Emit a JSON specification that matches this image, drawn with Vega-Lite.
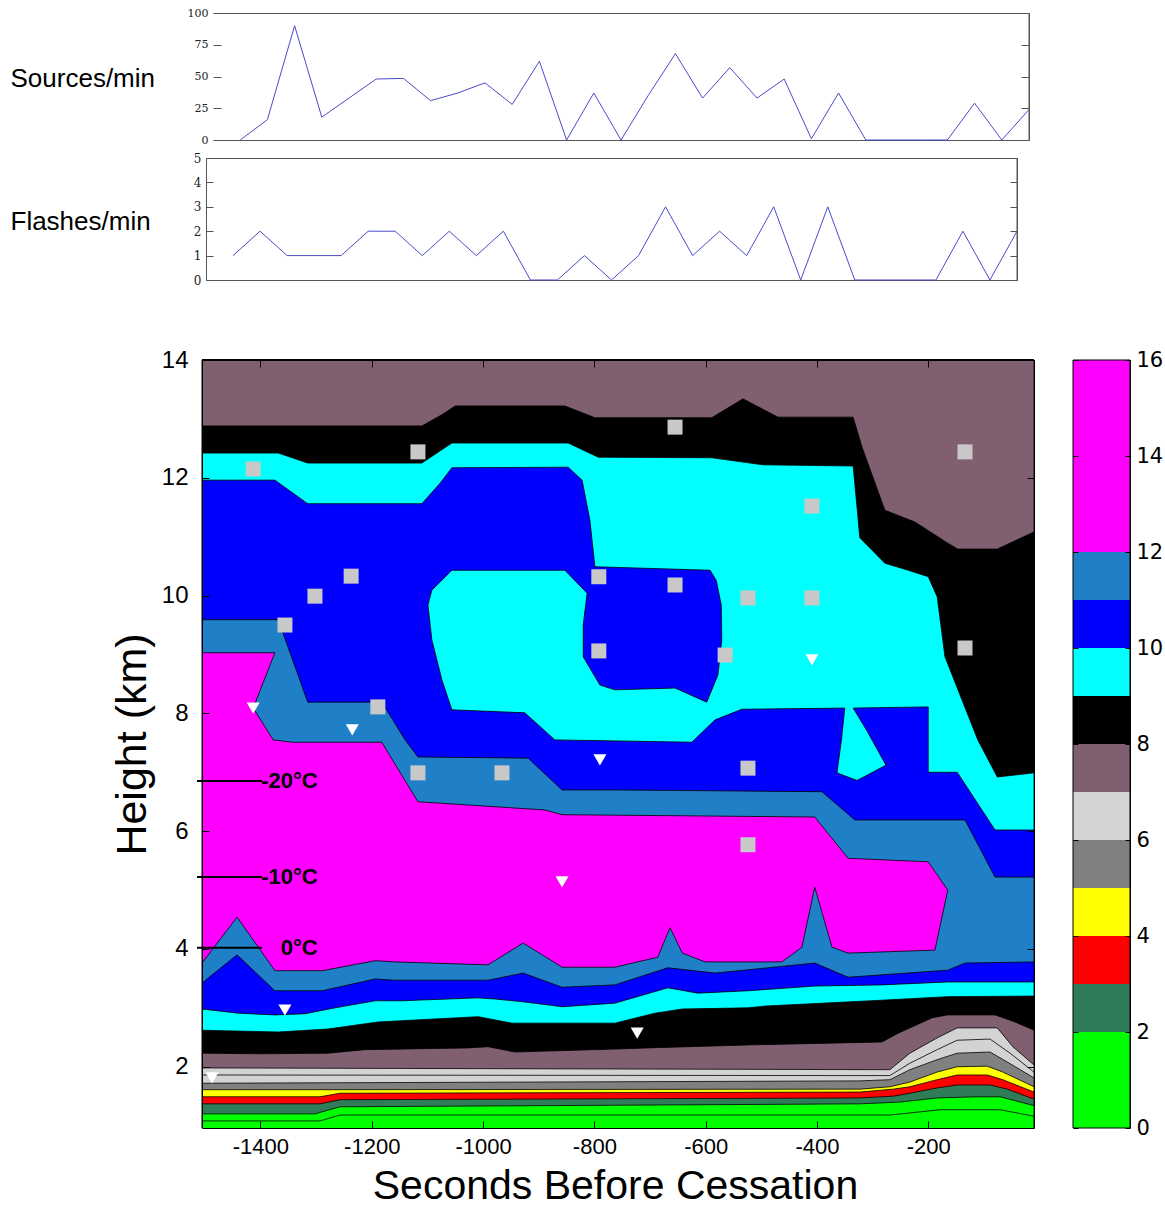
{
  "$schema": "https://vega.github.io/schema/vega-lite/v6.json",
  "width": 1165,
  "height": 1207,
  "autosize": "none",
  "padding": 0,
  "background": "#ffffff",
  "config": {"view": {"stroke": null}, "axis": {"grid": false, "labelColor": "#000", "tickColor": "#000", "domainColor": "#000", "titleColor": "#000"}},
  "datasets": {
    "sources": [{"i":0,"n":0},{"i":1,"n":16},{"i":2,"n":90},{"i":3,"n":18},{"i":4,"n":33},{"i":5,"n":48},{"i":6,"n":48.5},{"i":7,"n":31},{"i":8,"n":37},{"i":9,"n":45},{"i":10,"n":28},{"i":11,"n":62},{"i":12,"n":0},{"i":13,"n":37},{"i":14,"n":0},{"i":15,"n":35},{"i":16,"n":68},{"i":17,"n":33},{"i":18,"n":57},{"i":19,"n":33},{"i":20,"n":48},{"i":21,"n":1},{"i":22,"n":37},{"i":23,"n":0},{"i":24,"n":0},{"i":25,"n":0},{"i":26,"n":0},{"i":27,"n":29},{"i":28,"n":0},{"i":29,"n":24}],
    "flashes": [{"i":0,"n":1},{"i":1,"n":2},{"i":2,"n":1},{"i":3,"n":1},{"i":4,"n":1},{"i":5,"n":2},{"i":6,"n":2},{"i":7,"n":1},{"i":8,"n":2},{"i":9,"n":1},{"i":10,"n":2},{"i":11,"n":0},{"i":12,"n":0},{"i":13,"n":1},{"i":14,"n":0},{"i":15,"n":1},{"i":16,"n":3},{"i":17,"n":1},{"i":18,"n":2},{"i":19,"n":1},{"i":20,"n":3},{"i":21,"n":0},{"i":22,"n":3},{"i":23,"n":0},{"i":24,"n":0},{"i":25,"n":0},{"i":26,"n":0},{"i":27,"n":2},{"i":28,"n":0},{"i":29,"n":2}],
    "ge0": [{"x":-1505,"y":0.96,"band":"0-2"},{"x":-1505,"y":14,"band":"0-2"},{"x":-10,"y":14,"band":"0-2"},{"x":-10,"y":0.96,"band":"0-2"}],
    "ge1": [{"x":-1505,"y":1.08,"band":"0-2"},{"x":-1293,"y":1.08,"band":"0-2"},{"x":-1257,"y":1.18,"band":"0-2"},{"x":-269,"y":1.18,"band":"0-2"},{"x":-179,"y":1.27,"band":"0-2"},{"x":-71,"y":1.27,"band":"0-2"},{"x":-10,"y":1.16,"band":"0-2"},{"x":-10,"y":14,"band":"0-2"},{"x":-1505,"y":14,"band":"0-2"}],
    "ge2": [{"x":-1505,"y":1.2,"band":"2-3"},{"x":-1302,"y":1.2,"band":"2-3"},{"x":-1257,"y":1.32,"band":"2-3"},{"x":-323,"y":1.37,"band":"2-3"},{"x":-251,"y":1.4,"band":"2-3"},{"x":-184,"y":1.47,"band":"2-3"},{"x":-112,"y":1.49,"band":"2-3"},{"x":-71,"y":1.49,"band":"2-3"},{"x":-10,"y":1.34,"band":"2-3"},{"x":-10,"y":14,"band":"2-3"},{"x":-1505,"y":14,"band":"2-3"}],
    "ge3": [{"x":-1505,"y":1.37,"band":"3-4"},{"x":-1293,"y":1.37,"band":"3-4"},{"x":-1257,"y":1.44,"band":"3-4"},{"x":-323,"y":1.47,"band":"3-4"},{"x":-263,"y":1.5,"band":"3-4"},{"x":-233,"y":1.55,"band":"3-4"},{"x":-184,"y":1.64,"band":"3-4"},{"x":-148,"y":1.69,"band":"3-4"},{"x":-89,"y":1.69,"band":"3-4"},{"x":-58,"y":1.62,"band":"3-4"},{"x":-10,"y":1.45,"band":"3-4"},{"x":-10,"y":14,"band":"3-4"},{"x":-1505,"y":14,"band":"3-4"}],
    "ge4": [{"x":-1505,"y":1.49,"band":"4-5"},{"x":-1293,"y":1.49,"band":"4-5"},{"x":-1257,"y":1.55,"band":"4-5"},{"x":-323,"y":1.57,"band":"4-5"},{"x":-263,"y":1.62,"band":"4-5"},{"x":-233,"y":1.66,"band":"4-5"},{"x":-184,"y":1.78,"band":"4-5"},{"x":-148,"y":1.86,"band":"4-5"},{"x":-94,"y":1.86,"band":"4-5"},{"x":-66,"y":1.78,"band":"4-5"},{"x":-10,"y":1.57,"band":"4-5"},{"x":-10,"y":14,"band":"4-5"},{"x":-1505,"y":14,"band":"4-5"}],
    "ge5": [{"x":-1505,"y":1.61,"band":"5-6"},{"x":-1293,"y":1.61,"band":"5-6"},{"x":-323,"y":1.62,"band":"5-6"},{"x":-269,"y":1.66,"band":"5-6"},{"x":-233,"y":1.74,"band":"5-6"},{"x":-184,"y":1.91,"band":"5-6"},{"x":-148,"y":2.0,"band":"5-6"},{"x":-94,"y":2.01,"band":"5-6"},{"x":-66,"y":1.91,"band":"5-6"},{"x":-10,"y":1.66,"band":"5-6"},{"x":-10,"y":14,"band":"5-6"},{"x":-1505,"y":14,"band":"5-6"}],
    "ge6": [{"x":-1505,"y":1.72,"band":"6-7"},{"x":-323,"y":1.76,"band":"6-7"},{"x":-269,"y":1.78,"band":"6-7"},{"x":-233,"y":1.95,"band":"6-7"},{"x":-184,"y":2.12,"band":"6-7"},{"x":-148,"y":2.23,"band":"6-7"},{"x":-89,"y":2.25,"band":"6-7"},{"x":-58,"y":2.08,"band":"6-7"},{"x":-10,"y":1.81,"band":"6-7"},{"x":-10,"y":14,"band":"6-7"},{"x":-1505,"y":14,"band":"6-7"}],
    "ge6b": [{"x":-1505,"y":1.86,"band":"6-7"},{"x":-323,"y":1.85,"band":"6-7"},{"x":-269,"y":1.85,"band":"6-7"},{"x":-233,"y":2.06,"band":"6-7"},{"x":-184,"y":2.29,"band":"6-7"},{"x":-148,"y":2.45,"band":"6-7"},{"x":-89,"y":2.47,"band":"6-7"},{"x":-53,"y":2.23,"band":"6-7"},{"x":-10,"y":1.91,"band":"6-7"},{"x":-10,"y":14,"band":"6-7"},{"x":-1505,"y":14,"band":"6-7"}],
    "ge7": [{"x":-1505,"y":1.98,"band":"7-8"},{"x":-269,"y":1.95,"band":"7-8"},{"x":-233,"y":2.23,"band":"7-8"},{"x":-184,"y":2.49,"band":"7-8"},{"x":-148,"y":2.66,"band":"7-8"},{"x":-76,"y":2.66,"band":"7-8"},{"x":-48,"y":2.34,"band":"7-8"},{"x":-10,"y":2.03,"band":"7-8"},{"x":-10,"y":14,"band":"7-8"},{"x":-1505,"y":14,"band":"7-8"}],
    "ge8": [{"x":-1505,"y":12.88,"band":"8-9"},{"x":-1110,"y":12.88,"band":"8-9"},{"x":-1074,"y":13.07,"band":"8-9"},{"x":-1050,"y":13.22,"band":"8-9"},{"x":-853,"y":13.22,"band":"8-9"},{"x":-799,"y":13.02,"band":"8-9"},{"x":-589,"y":13.02,"band":"8-9"},{"x":-533,"y":13.34,"band":"8-9"},{"x":-470,"y":13.03,"band":"8-9"},{"x":-335,"y":13.03,"band":"8-9"},{"x":-319,"y":12.52,"band":"8-9"},{"x":-278,"y":11.45,"band":"8-9"},{"x":-224,"y":11.25,"band":"8-9"},{"x":-165,"y":10.89,"band":"8-9"},{"x":-147,"y":10.79,"band":"8-9"},{"x":-76,"y":10.79,"band":"8-9"},{"x":-10,"y":11.08,"band":"8-9"},{"x":-10,"y":2.62,"band":"8-9"},{"x":-44,"y":2.76,"band":"8-9"},{"x":-80,"y":2.88,"band":"8-9"},{"x":-165,"y":2.88,"band":"8-9"},{"x":-193,"y":2.83,"band":"8-9"},{"x":-254,"y":2.57,"band":"8-9"},{"x":-283,"y":2.42,"band":"8-9"},{"x":-524,"y":2.37,"band":"8-9"},{"x":-704,"y":2.32,"band":"8-9"},{"x":-763,"y":2.3,"band":"8-9"},{"x":-943,"y":2.25,"band":"8-9"},{"x":-991,"y":2.34,"band":"8-9"},{"x":-1027,"y":2.32,"band":"8-9"},{"x":-1212,"y":2.29,"band":"8-9"},{"x":-1279,"y":2.23,"band":"8-9"},{"x":-1397,"y":2.22,"band":"8-9"},{"x":-1505,"y":2.23,"band":"8-9"}],
    "ge9": [{"x":-1505,"y":12.42,"band":"9-10"},{"x":-1368,"y":12.42,"band":"9-10"},{"x":-1315,"y":12.25,"band":"9-10"},{"x":-1110,"y":12.25,"band":"9-10"},{"x":-1056,"y":12.59,"band":"9-10"},{"x":-847,"y":12.59,"band":"9-10"},{"x":-793,"y":12.35,"band":"9-10"},{"x":-589,"y":12.34,"band":"9-10"},{"x":-497,"y":12.22,"band":"9-10"},{"x":-335,"y":12.2,"band":"9-10"},{"x":-328,"y":11.5,"band":"9-10"},{"x":-323,"y":10.98,"band":"9-10"},{"x":-278,"y":10.55,"band":"9-10"},{"x":-236,"y":10.43,"band":"9-10"},{"x":-200,"y":10.32,"band":"9-10"},{"x":-184,"y":9.98,"band":"9-10"},{"x":-170,"y":8.96,"band":"9-10"},{"x":-111,"y":7.55,"band":"9-10"},{"x":-76,"y":6.92,"band":"9-10"},{"x":-10,"y":6.99,"band":"9-10"},{"x":-10,"y":3.2,"band":"9-10"},{"x":-165,"y":3.19,"band":"9-10"},{"x":-283,"y":3.13,"band":"9-10"},{"x":-493,"y":3.03,"band":"9-10"},{"x":-524,"y":3.0,"band":"9-10"},{"x":-642,"y":2.98,"band":"9-10"},{"x":-691,"y":2.91,"band":"9-10"},{"x":-763,"y":2.74,"band":"9-10"},{"x":-948,"y":2.74,"band":"9-10"},{"x":-1009,"y":2.85,"band":"9-10"},{"x":-1189,"y":2.76,"band":"9-10"},{"x":-1279,"y":2.64,"band":"9-10"},{"x":-1368,"y":2.59,"band":"9-10"},{"x":-1505,"y":2.62,"band":"9-10"}],
    "ge10": [{"x":-1505,"y":11.96,"band":"10-11"},{"x":-1374,"y":11.96,"band":"10-11"},{"x":-1315,"y":11.56,"band":"10-11"},{"x":-1110,"y":11.56,"band":"10-11"},{"x":-1077,"y":11.91,"band":"10-11"},{"x":-1056,"y":12.17,"band":"10-11"},{"x":-847,"y":12.18,"band":"10-11"},{"x":-822,"y":11.96,"band":"10-11"},{"x":-808,"y":11.28,"band":"10-11"},{"x":-799,"y":10.49,"band":"10-11"},{"x":-592,"y":10.43,"band":"10-11"},{"x":-581,"y":10.26,"band":"10-11"},{"x":-572,"y":9.84,"band":"10-11"},{"x":-571,"y":9.25,"band":"10-11"},{"x":-578,"y":8.65,"band":"10-11"},{"x":-598,"y":8.19,"band":"10-11"},{"x":-655,"y":8.43,"band":"10-11"},{"x":-763,"y":8.4,"band":"10-11"},{"x":-790,"y":8.48,"band":"10-11"},{"x":-820,"y":8.96,"band":"10-11"},{"x":-820,"y":9.5,"band":"10-11"},{"x":-813,"y":10.04,"band":"10-11"},{"x":-853,"y":10.43,"band":"10-11"},{"x":-1056,"y":10.43,"band":"10-11"},{"x":-1092,"y":10.09,"band":"10-11"},{"x":-1099,"y":9.84,"band":"10-11"},{"x":-1092,"y":9.25,"band":"10-11"},{"x":-1074,"y":8.57,"band":"10-11"},{"x":-1056,"y":8.06,"band":"10-11"},{"x":-925,"y":8.01,"band":"10-11"},{"x":-871,"y":7.55,"band":"10-11"},{"x":-625,"y":7.51,"band":"10-11"},{"x":-583,"y":7.89,"band":"10-11"},{"x":-535,"y":8.07,"band":"10-11"},{"x":-350,"y":8.09,"band":"10-11"},{"x":-356,"y":7.55,"band":"10-11"},{"x":-364,"y":6.99,"band":"10-11"},{"x":-328,"y":6.86,"band":"10-11"},{"x":-276,"y":7.12,"band":"10-11"},{"x":-310,"y":7.7,"band":"10-11"},{"x":-335,"y":8.09,"band":"10-11"},{"x":-200,"y":8.11,"band":"10-11"},{"x":-200,"y":7.0,"band":"10-11"},{"x":-148,"y":7.0,"band":"10-11"},{"x":-80,"y":6.02,"band":"10-11"},{"x":-10,"y":6.02,"band":"10-11"},{"x":-10,"y":3.44,"band":"10-11"},{"x":-165,"y":3.44,"band":"10-11"},{"x":-283,"y":3.39,"band":"10-11"},{"x":-404,"y":3.37,"band":"10-11"},{"x":-524,"y":3.29,"band":"10-11"},{"x":-614,"y":3.25,"band":"10-11"},{"x":-668,"y":3.34,"band":"10-11"},{"x":-763,"y":3.08,"band":"10-11"},{"x":-858,"y":3.02,"band":"10-11"},{"x":-925,"y":3.1,"band":"10-11"},{"x":-978,"y":3.15,"band":"10-11"},{"x":-1009,"y":3.17,"band":"10-11"},{"x":-1146,"y":3.12,"band":"10-11"},{"x":-1194,"y":3.12,"band":"10-11"},{"x":-1266,"y":3.0,"band":"10-11"},{"x":-1320,"y":2.9,"band":"10-11"},{"x":-1374,"y":2.88,"band":"10-11"},{"x":-1440,"y":2.91,"band":"10-11"},{"x":-1505,"y":2.98,"band":"10-11"}],
    "ge11": [{"x":-1505,"y":9.59,"band":"11-12"},{"x":-1368,"y":9.59,"band":"11-12"},{"x":-1315,"y":8.19,"band":"11-12"},{"x":-1182,"y":8.19,"band":"11-12"},{"x":-1140,"y":7.55,"band":"11-12"},{"x":-1117,"y":7.26,"band":"11-12"},{"x":-919,"y":7.24,"band":"11-12"},{"x":-858,"y":6.7,"band":"11-12"},{"x":-763,"y":6.7,"band":"11-12"},{"x":-391,"y":6.67,"band":"11-12"},{"x":-332,"y":6.19,"band":"11-12"},{"x":-134,"y":6.19,"band":"11-12"},{"x":-80,"y":5.22,"band":"11-12"},{"x":-10,"y":5.22,"band":"11-12"},{"x":-10,"y":3.78,"band":"11-12"},{"x":-134,"y":3.76,"band":"11-12"},{"x":-165,"y":3.64,"band":"11-12"},{"x":-344,"y":3.52,"band":"11-12"},{"x":-404,"y":3.76,"band":"11-12"},{"x":-583,"y":3.59,"band":"11-12"},{"x":-668,"y":3.68,"band":"11-12"},{"x":-763,"y":3.39,"band":"11-12"},{"x":-858,"y":3.35,"band":"11-12"},{"x":-928,"y":3.59,"band":"11-12"},{"x":-991,"y":3.47,"band":"11-12"},{"x":-1158,"y":3.47,"band":"11-12"},{"x":-1194,"y":3.49,"band":"11-12"},{"x":-1289,"y":3.29,"band":"11-12"},{"x":-1374,"y":3.29,"band":"11-12"},{"x":-1442,"y":3.9,"band":"11-12"},{"x":-1505,"y":3.42,"band":"11-12"}],
    "ge12": [{"x":-1505,"y":9.03,"band":"12-16"},{"x":-1374,"y":9.03,"band":"12-16"},{"x":-1413,"y":8.09,"band":"12-16"},{"x":-1377,"y":7.55,"band":"12-16"},{"x":-1343,"y":7.51,"band":"12-16"},{"x":-1182,"y":7.51,"band":"12-16"},{"x":-1117,"y":6.5,"band":"12-16"},{"x":-889,"y":6.36,"band":"12-16"},{"x":-858,"y":6.28,"band":"12-16"},{"x":-404,"y":6.24,"band":"12-16"},{"x":-344,"y":5.54,"band":"12-16"},{"x":-200,"y":5.48,"band":"12-16"},{"x":-165,"y":5.0,"band":"12-16"},{"x":-188,"y":3.98,"band":"12-16"},{"x":-344,"y":3.93,"band":"12-16"},{"x":-373,"y":4.03,"band":"12-16"},{"x":-404,"y":5.05,"band":"12-16"},{"x":-427,"y":4.03,"band":"12-16"},{"x":-463,"y":3.78,"band":"12-16"},{"x":-601,"y":3.78,"band":"12-16"},{"x":-642,"y":3.93,"band":"12-16"},{"x":-664,"y":4.36,"band":"12-16"},{"x":-686,"y":3.86,"band":"12-16"},{"x":-763,"y":3.69,"band":"12-16"},{"x":-858,"y":3.69,"band":"12-16"},{"x":-928,"y":4.1,"band":"12-16"},{"x":-991,"y":3.73,"band":"12-16"},{"x":-1158,"y":3.78,"band":"12-16"},{"x":-1194,"y":3.8,"band":"12-16"},{"x":-1289,"y":3.63,"band":"12-16"},{"x":-1374,"y":3.63,"band":"12-16"},{"x":-1442,"y":4.54,"band":"12-16"},{"x":-1505,"y":3.76,"band":"12-16"}],
    "squares": [{"x":-1117,"y":12.44},{"x":-1413,"y":12.15},{"x":-1237,"y":10.33},{"x":-1302,"y":9.99},{"x":-1356,"y":9.5},{"x":-792,"y":10.32},{"x":-792,"y":9.06},{"x":-1189,"y":8.11},{"x":-655,"y":12.86},{"x":-134,"y":12.44},{"x":-409,"y":11.52},{"x":-655,"y":10.18},{"x":-524,"y":9.96},{"x":-409,"y":9.96},{"x":-565,"y":8.99},{"x":-134,"y":9.11},{"x":-1117,"y":6.99},{"x":-966,"y":6.99},{"x":-524,"y":7.07},{"x":-524,"y":5.77}],
    "tris": [{"x":-1413,"y":8.09},{"x":-1235,"y":7.72},{"x":-409,"y":8.91},{"x":-790,"y":7.21},{"x":-858,"y":5.14},{"x":-1356,"y":2.96},{"x":-1487,"y":1.81},{"x":-723,"y":2.57}],
    "temps": [{"t":"-20°C","y":6.85},{"t":"-10°C","y":5.22},{"t":"0°C","y":4.02}],
    "cbar": [{"lo":0,"hi":2,"band":"0-2"},{"lo":2,"hi":3,"band":"2-3"},{"lo":3,"hi":4,"band":"3-4"},{"lo":4,"hi":5,"band":"4-5"},{"lo":5,"hi":6,"band":"5-6"},{"lo":6,"hi":7,"band":"6-7"},{"lo":7,"hi":8,"band":"7-8"},{"lo":8,"hi":9,"band":"8-9"},{"lo":9,"hi":10,"band":"9-10"},{"lo":10,"hi":11,"band":"10-11"},{"lo":11,"hi":12,"band":"11-12"},{"lo":12,"hi":16,"band":"12-16"}]
  },
  "resolve": {"scale": {"x": "independent", "y": "independent"}, "axis": {"x": "independent", "y": "independent"}},
  "layer": [
    {"data":{"name":"ge0"},"mark":{"type":"line","filled":true,"stroke":"#000","strokeWidth":1},
     "encoding":{
       "x":{"field":"x","type":"quantitative","scale":{"domain":[-1505,-10],"range":[202,1034],"nice":false,"zero":false},
            "axis":{"orient":"bottom","offset":-79,"values":[-1400,-1200,-1000,-800,-600,-400,-200],"labelExpr":"'' + datum.value","tickSize":-7,"labelFont":"Liberation Sans","labelFontSize":22,"labelPadding":15,"labelDx":-5,"labelFlush":false,"labelOverlap":false,"title":"Seconds Before Cessation","titleFont":"Liberation Sans","titleFontSize":41,"titleFontWeight":"normal","titleX":615,"titleY":70,"titleAlign":"center","titleBaseline":"alphabetic","zindex":1}},
       "y":{"field":"y","type":"quantitative","scale":{"domain":[0.96,14],"range":[1128,360],"nice":false,"zero":false},
            "axis":{"orient":"left","offset":-202,"values":[2,4,6,8,10,12,14],"tickSize":-7,"labelFont":"Liberation Sans","labelFontSize":24,"labelPadding":21,"labelFlush":false,"labelOverlap":false,"title":"Height (km)","titleFont":"Liberation Sans","titleFontSize":43,"titleFontWeight":"normal","titleAngle":-90,"titleX":-57,"titleY":744,"titleAlign":"center","titleBaseline":"alphabetic","zindex":1}},
       "color":{"field":"band","type":"nominal","scale":{"domain":["0-2","2-3","3-4","4-5","5-6","6-7","7-8","8-9","9-10","10-11","11-12","12-16"],"range":["#00ff00","#2e7d58","#ff0000","#ffff00","#808080","#d3d3d3","#806070","#000000","#00ffff","#0000ff","#1f80c8","#ff00ff"]},"legend":null},
       "order":{"value":null}}},
    {"data":{"name":"ge1"},"mark":{"type":"line","filled":true,"stroke":"#000","strokeWidth":0.8},
     "encoding":{
       "x":{"field":"x","type":"quantitative","scale":{"domain":[-1505,-10],"range":[202,1034],"nice":false,"zero":false},
            "axis":{"orient":"top","offset":-360,"values":[-1400,-1200,-1000,-800,-600,-400,-200],"tickSize":-7,"labels":false,"title":null,"zindex":1}},
       "y":{"field":"y","type":"quantitative","scale":{"domain":[0.96,14],"range":[1128,360],"nice":false,"zero":false},
            "axis":{"orient":"right","offset":-131,"values":[2,4,6,8,10,12,14],"tickSize":-7,"labels":false,"title":null,"zindex":1}},
       "color":{"field":"band","type":"nominal","scale":{"domain":["0-2","2-3","3-4","4-5","5-6","6-7","7-8","8-9","9-10","10-11","11-12","12-16"],"range":["#00ff00","#2e7d58","#ff0000","#ffff00","#808080","#d3d3d3","#806070","#000000","#00ffff","#0000ff","#1f80c8","#ff00ff"]},"legend":null},
       "order":{"value":null}}},
    {"data":{"name":"ge2"},"mark":{"type":"line","filled":true,"stroke":"#000","strokeWidth":0.8},
     "encoding":{"x":{"field":"x","type":"quantitative","scale":{"domain":[-1505,-10],"range":[202,1034],"nice":false,"zero":false},"axis":null},"y":{"field":"y","type":"quantitative","scale":{"domain":[0.96,14],"range":[1128,360],"nice":false,"zero":false},"axis":null},
       "color":{"field":"band","type":"nominal","scale":{"domain":["0-2","2-3","3-4","4-5","5-6","6-7","7-8","8-9","9-10","10-11","11-12","12-16"],"range":["#00ff00","#2e7d58","#ff0000","#ffff00","#808080","#d3d3d3","#806070","#000000","#00ffff","#0000ff","#1f80c8","#ff00ff"]},"legend":null},"order":{"value":null}}},
    {"data":{"name":"ge3"},"mark":{"type":"line","filled":true,"stroke":"#000","strokeWidth":0.8},
     "encoding":{"x":{"field":"x","type":"quantitative","scale":{"domain":[-1505,-10],"range":[202,1034],"nice":false,"zero":false},"axis":null},"y":{"field":"y","type":"quantitative","scale":{"domain":[0.96,14],"range":[1128,360],"nice":false,"zero":false},"axis":null},
       "color":{"field":"band","type":"nominal","scale":{"domain":["0-2","2-3","3-4","4-5","5-6","6-7","7-8","8-9","9-10","10-11","11-12","12-16"],"range":["#00ff00","#2e7d58","#ff0000","#ffff00","#808080","#d3d3d3","#806070","#000000","#00ffff","#0000ff","#1f80c8","#ff00ff"]},"legend":null},"order":{"value":null}}},
    {"data":{"name":"ge4"},"mark":{"type":"line","filled":true,"stroke":"#000","strokeWidth":0.8},
     "encoding":{"x":{"field":"x","type":"quantitative","scale":{"domain":[-1505,-10],"range":[202,1034],"nice":false,"zero":false},"axis":null},"y":{"field":"y","type":"quantitative","scale":{"domain":[0.96,14],"range":[1128,360],"nice":false,"zero":false},"axis":null},
       "color":{"field":"band","type":"nominal","scale":{"domain":["0-2","2-3","3-4","4-5","5-6","6-7","7-8","8-9","9-10","10-11","11-12","12-16"],"range":["#00ff00","#2e7d58","#ff0000","#ffff00","#808080","#d3d3d3","#806070","#000000","#00ffff","#0000ff","#1f80c8","#ff00ff"]},"legend":null},"order":{"value":null}}},
    {"data":{"name":"ge5"},"mark":{"type":"line","filled":true,"stroke":"#000","strokeWidth":0.8},
     "encoding":{"x":{"field":"x","type":"quantitative","scale":{"domain":[-1505,-10],"range":[202,1034],"nice":false,"zero":false},"axis":null},"y":{"field":"y","type":"quantitative","scale":{"domain":[0.96,14],"range":[1128,360],"nice":false,"zero":false},"axis":null},
       "color":{"field":"band","type":"nominal","scale":{"domain":["0-2","2-3","3-4","4-5","5-6","6-7","7-8","8-9","9-10","10-11","11-12","12-16"],"range":["#00ff00","#2e7d58","#ff0000","#ffff00","#808080","#d3d3d3","#806070","#000000","#00ffff","#0000ff","#1f80c8","#ff00ff"]},"legend":null},"order":{"value":null}}},
    {"data":{"name":"ge6"},"mark":{"type":"line","filled":true,"stroke":"#000","strokeWidth":0.8},
     "encoding":{"x":{"field":"x","type":"quantitative","scale":{"domain":[-1505,-10],"range":[202,1034],"nice":false,"zero":false},"axis":null},"y":{"field":"y","type":"quantitative","scale":{"domain":[0.96,14],"range":[1128,360],"nice":false,"zero":false},"axis":null},
       "color":{"field":"band","type":"nominal","scale":{"domain":["0-2","2-3","3-4","4-5","5-6","6-7","7-8","8-9","9-10","10-11","11-12","12-16"],"range":["#00ff00","#2e7d58","#ff0000","#ffff00","#808080","#d3d3d3","#806070","#000000","#00ffff","#0000ff","#1f80c8","#ff00ff"]},"legend":null},"order":{"value":null}}},
    {"data":{"name":"ge6b"},"mark":{"type":"line","filled":true,"stroke":"#000","strokeWidth":0.8},
     "encoding":{"x":{"field":"x","type":"quantitative","scale":{"domain":[-1505,-10],"range":[202,1034],"nice":false,"zero":false},"axis":null},"y":{"field":"y","type":"quantitative","scale":{"domain":[0.96,14],"range":[1128,360],"nice":false,"zero":false},"axis":null},
       "color":{"field":"band","type":"nominal","scale":{"domain":["0-2","2-3","3-4","4-5","5-6","6-7","7-8","8-9","9-10","10-11","11-12","12-16"],"range":["#00ff00","#2e7d58","#ff0000","#ffff00","#808080","#d3d3d3","#806070","#000000","#00ffff","#0000ff","#1f80c8","#ff00ff"]},"legend":null},"order":{"value":null}}},
    {"data":{"name":"ge7"},"mark":{"type":"line","filled":true,"stroke":"#000","strokeWidth":0.8},
     "encoding":{"x":{"field":"x","type":"quantitative","scale":{"domain":[-1505,-10],"range":[202,1034],"nice":false,"zero":false},"axis":null},"y":{"field":"y","type":"quantitative","scale":{"domain":[0.96,14],"range":[1128,360],"nice":false,"zero":false},"axis":null},
       "color":{"field":"band","type":"nominal","scale":{"domain":["0-2","2-3","3-4","4-5","5-6","6-7","7-8","8-9","9-10","10-11","11-12","12-16"],"range":["#00ff00","#2e7d58","#ff0000","#ffff00","#808080","#d3d3d3","#806070","#000000","#00ffff","#0000ff","#1f80c8","#ff00ff"]},"legend":null},"order":{"value":null}}},
    {"data":{"name":"ge8"},"mark":{"type":"line","filled":true,"stroke":"#000","strokeWidth":0.8},
     "encoding":{"x":{"field":"x","type":"quantitative","scale":{"domain":[-1505,-10],"range":[202,1034],"nice":false,"zero":false},"axis":null},"y":{"field":"y","type":"quantitative","scale":{"domain":[0.96,14],"range":[1128,360],"nice":false,"zero":false},"axis":null},
       "color":{"field":"band","type":"nominal","scale":{"domain":["0-2","2-3","3-4","4-5","5-6","6-7","7-8","8-9","9-10","10-11","11-12","12-16"],"range":["#00ff00","#2e7d58","#ff0000","#ffff00","#808080","#d3d3d3","#806070","#000000","#00ffff","#0000ff","#1f80c8","#ff00ff"]},"legend":null},"order":{"value":null}}},
    {"data":{"name":"ge9"},"mark":{"type":"line","filled":true,"stroke":"#000","strokeWidth":0.8},
     "encoding":{"x":{"field":"x","type":"quantitative","scale":{"domain":[-1505,-10],"range":[202,1034],"nice":false,"zero":false},"axis":null},"y":{"field":"y","type":"quantitative","scale":{"domain":[0.96,14],"range":[1128,360],"nice":false,"zero":false},"axis":null},
       "color":{"field":"band","type":"nominal","scale":{"domain":["0-2","2-3","3-4","4-5","5-6","6-7","7-8","8-9","9-10","10-11","11-12","12-16"],"range":["#00ff00","#2e7d58","#ff0000","#ffff00","#808080","#d3d3d3","#806070","#000000","#00ffff","#0000ff","#1f80c8","#ff00ff"]},"legend":null},"order":{"value":null}}},
    {"data":{"name":"ge10"},"mark":{"type":"line","filled":true,"stroke":"#000","strokeWidth":0.8},
     "encoding":{"x":{"field":"x","type":"quantitative","scale":{"domain":[-1505,-10],"range":[202,1034],"nice":false,"zero":false},"axis":null},"y":{"field":"y","type":"quantitative","scale":{"domain":[0.96,14],"range":[1128,360],"nice":false,"zero":false},"axis":null},
       "color":{"field":"band","type":"nominal","scale":{"domain":["0-2","2-3","3-4","4-5","5-6","6-7","7-8","8-9","9-10","10-11","11-12","12-16"],"range":["#00ff00","#2e7d58","#ff0000","#ffff00","#808080","#d3d3d3","#806070","#000000","#00ffff","#0000ff","#1f80c8","#ff00ff"]},"legend":null},"order":{"value":null}}},
    {"data":{"name":"ge11"},"mark":{"type":"line","filled":true,"stroke":"#000","strokeWidth":0.8},
     "encoding":{"x":{"field":"x","type":"quantitative","scale":{"domain":[-1505,-10],"range":[202,1034],"nice":false,"zero":false},"axis":null},"y":{"field":"y","type":"quantitative","scale":{"domain":[0.96,14],"range":[1128,360],"nice":false,"zero":false},"axis":null},
       "color":{"field":"band","type":"nominal","scale":{"domain":["0-2","2-3","3-4","4-5","5-6","6-7","7-8","8-9","9-10","10-11","11-12","12-16"],"range":["#00ff00","#2e7d58","#ff0000","#ffff00","#808080","#d3d3d3","#806070","#000000","#00ffff","#0000ff","#1f80c8","#ff00ff"]},"legend":null},"order":{"value":null}}},
    {"data":{"name":"ge12"},"mark":{"type":"line","filled":true,"stroke":"#000","strokeWidth":0.8},
     "encoding":{"x":{"field":"x","type":"quantitative","scale":{"domain":[-1505,-10],"range":[202,1034],"nice":false,"zero":false},"axis":null},"y":{"field":"y","type":"quantitative","scale":{"domain":[0.96,14],"range":[1128,360],"nice":false,"zero":false},"axis":null},
       "color":{"field":"band","type":"nominal","scale":{"domain":["0-2","2-3","3-4","4-5","5-6","6-7","7-8","8-9","9-10","10-11","11-12","12-16"],"range":["#00ff00","#2e7d58","#ff0000","#ffff00","#808080","#d3d3d3","#806070","#000000","#00ffff","#0000ff","#1f80c8","#ff00ff"]},"legend":null},"order":{"value":null}}},
    {"data":{"name":"squares"},"mark":{"type":"point","shape":"square","filled":true,"size":225,"color":"#c8c8c8","opacity":1},
     "encoding":{"x":{"field":"x","type":"quantitative","scale":{"domain":[-1505,-10],"range":[202,1034],"nice":false,"zero":false},"axis":null},"y":{"field":"y","type":"quantitative","scale":{"domain":[0.96,14],"range":[1128,360],"nice":false,"zero":false},"axis":null}}},
    {"data":{"name":"tris"},"mark":{"type":"point","shape":"triangle-down","filled":true,"size":170,"color":"#ffffff","opacity":1},
     "encoding":{"x":{"field":"x","type":"quantitative","scale":{"domain":[-1505,-10],"range":[202,1034],"nice":false,"zero":false},"axis":null},"y":{"field":"y","type":"quantitative","scale":{"domain":[0.96,14],"range":[1128,360],"nice":false,"zero":false},"axis":null}}},
    {"data":{"name":"temps"},"mark":{"type":"rule","color":"#000","strokeWidth":2},
     "encoding":{"x":{"datum":-1514,"type":"quantitative","scale":{"domain":[-1505,-10],"range":[202,1034],"nice":false,"zero":false},"axis":null},"x2":{"datum":-1397},"y":{"field":"y","type":"quantitative","scale":{"domain":[0.96,14],"range":[1128,360],"nice":false,"zero":false},"axis":null}}},
    {"data":{"name":"temps"},"mark":{"type":"text","align":"right","baseline":"middle","font":"Liberation Sans","fontWeight":"bold","fontSize":22,"color":"#000"},
     "encoding":{"x":{"datum":-1297,"type":"quantitative","scale":{"domain":[-1505,-10],"range":[202,1034],"nice":false,"zero":false},"axis":null},"y":{"field":"y","type":"quantitative","scale":{"domain":[0.96,14],"range":[1128,360],"nice":false,"zero":false},"axis":null},"text":{"field":"t","type":"nominal"}}},
    {"data":{"name":"cbar"},"mark":{"type":"rect"},
     "encoding":{"x":{"datum":0,"type":"quantitative","scale":{"domain":[0,1],"range":[1073,1130],"nice":false,"zero":false},"axis":null},"x2":{"datum":1},
       "y":{"field":"lo","type":"quantitative","scale":{"domain":[0,16],"range":[1128,360],"nice":false,"zero":false},
            "axis":{"orient":"right","offset":-35,"values":[0,2,4,6,8,10,12,14,16],"tickSize":-5,"labelFont":"DejaVu Sans","labelFontSize":21,"labelPadding":11,"labelFlush":false,"labelOverlap":false,"title":null,"zindex":1}},
       "y2":{"field":"hi"},
       "color":{"field":"band","type":"nominal","scale":{"domain":["0-2","2-3","3-4","4-5","5-6","6-7","7-8","8-9","9-10","10-11","11-12","12-16"],"range":["#00ff00","#2e7d58","#ff0000","#ffff00","#808080","#d3d3d3","#806070","#000000","#00ffff","#0000ff","#1f80c8","#ff00ff"]},"legend":null}}},
    {"data":{"values":[{"f":1}]},"mark":{"type":"rect","filled":false,"stroke":"#000","strokeWidth":1},
     "encoding":{"x":{"datum":0,"type":"quantitative","scale":{"domain":[0,1],"range":[1073,1130],"nice":false,"zero":false},"axis":null},"x2":{"datum":1},
       "y":{"datum":0,"type":"quantitative","scale":{"domain":[0,16],"range":[1128,360],"nice":false,"zero":false},
            "axis":{"orient":"left","offset":-1073,"values":[0,2,4,6,8,10,12,14,16],"tickSize":-5,"labels":false,"domain":false,"title":null,"zindex":1}},
       "y2":{"datum":16}}},
    {"data":{"name":"sources"},"mark":{"type":"line","color":"#4b4bc8","strokeWidth":1},
     "encoding":{
       "x":{"field":"i","type":"quantitative","scale":{"domain":[-1,29],"range":[213,1029],"nice":false,"zero":false},
            "axis":{"orient":"bottom","offset":-1067,"ticks":false,"labels":false,"title":null,"domainColor":"#555"}},
       "y":{"field":"n","type":"quantitative","scale":{"domain":[0,100],"range":[140,13],"nice":false,"zero":false},
            "axis":{"orient":"left","offset":-213,"values":[0,25,50,75,100],"tickSize":-8,"tickColor":"#555","domain":false,"labelFont":"DejaVu Serif","labelFontSize":11,"labelPadding":13,"labelColor":"#222","labelFlush":false,"labelOverlap":false,"title":"Sources/min","titleAngle":0,"titleAlign":"left","titleBaseline":"middle","titleX":-203,"titleY":78,"titleFont":"Liberation Sans","titleFontSize":26,"titleFontWeight":"normal"}}}},
    {"data":{"values":[{"f":1}]},"mark":{"type":"rule","color":"#555","strokeWidth":1},
     "encoding":{
       "x":{"datum":29,"type":"quantitative","scale":{"domain":[-1,29],"range":[213,1029],"nice":false,"zero":false},
            "axis":{"orient":"top","offset":-13,"ticks":false,"labels":false,"title":null,"domainColor":"#555"}},
       "y":{"datum":0,"type":"quantitative","scale":{"domain":[0,100],"range":[140,13],"nice":false,"zero":false},
            "axis":{"orient":"right","offset":-136,"values":[0,25,50,75,100],"tickSize":-8,"tickColor":"#555","labels":false,"domainColor":"#555","title":null}},
       "y2":{"datum":100}}},
    {"data":{"name":"flashes"},"mark":{"type":"line","color":"#4b4bc8","strokeWidth":1},
     "encoding":{
       "x":{"field":"i","type":"quantitative","scale":{"domain":[-1,29],"range":[206,1017],"nice":false,"zero":false},
            "axis":{"orient":"bottom","offset":-927,"ticks":false,"labels":false,"title":null,"domainColor":"#555"}},
       "y":{"field":"n","type":"quantitative","scale":{"domain":[0,5],"range":[280,158],"nice":false,"zero":false},
            "axis":{"orient":"left","offset":-206,"values":[0,1,2,3,4,5],"tickSize":-7,"tickColor":"#555","domainColor":"#555","labelFont":"DejaVu Serif","labelFontSize":12,"labelPadding":12,"labelColor":"#222","labelFlush":false,"labelOverlap":false,"title":"Flashes/min","titleAngle":0,"titleAlign":"left","titleBaseline":"middle","titleX":-196,"titleY":221,"titleFont":"Liberation Sans","titleFontSize":26,"titleFontWeight":"normal"}}}},
    {"data":{"values":[{"f":1}]},"mark":{"type":"rule","color":"#555","strokeWidth":1},
     "encoding":{
       "x":{"datum":29,"type":"quantitative","scale":{"domain":[-1,29],"range":[206,1017],"nice":false,"zero":false},
            "axis":{"orient":"top","offset":-158,"ticks":false,"labels":false,"title":null,"domainColor":"#555"}},
       "y":{"datum":0,"type":"quantitative","scale":{"domain":[0,5],"range":[280,158],"nice":false,"zero":false},
            "axis":{"orient":"right","offset":-148,"values":[0,1,2,3,4,5],"tickSize":-7,"tickColor":"#555","labels":false,"domainColor":"#555","title":null}},
       "y2":{"datum":5}}}
  ]
}
